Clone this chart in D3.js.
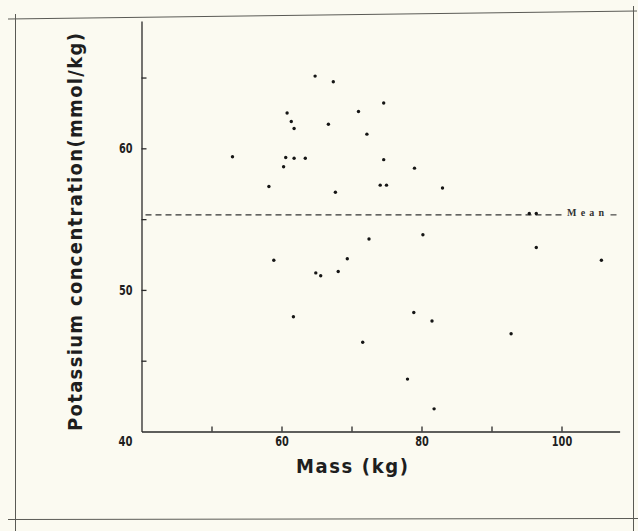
<!DOCTYPE html>
<html>
<head>
<meta charset="utf-8">
<script src="https://cdn.jsdelivr.net/npm/d3@7"></script>
<style>
  html, body { margin: 0; padding: 0; background: #fbfaf1; }
  svg { display: block; }
  .lbl { font-family: 'Liberation Sans Narrow', 'DejaVu Sans Condensed', 'Roboto', sans-serif; font-weight: bold; fill: #1e1e1e; }
</style>
</head>
<body>
<svg id="chart" width="638" height="531"></svg>
<script>
// ---- data ----
const massKg = [53.0, 58.2, 60.8, 61.4, 61.8, 60.6, 61.8, 63.4, 60.3, 64.8,
                66.7, 67.4, 74.6, 71.0, 72.2, 74.6, 79.0, 74.1, 75.0, 67.7,
                83.0, 72.5, 80.2, 58.9, 64.9, 65.6, 61.7, 69.4, 68.1, 96.4,
                105.7, 78.9, 81.5, 71.6, 92.8, 78.0, 81.8, 95.4, 96.4];
const potassium = [59.4, 57.3, 62.5, 61.9, 61.4, 59.35, 59.3, 59.3, 58.7, 65.1,
                   61.7, 64.7, 63.2, 62.6, 61.0, 59.2, 58.6, 57.4, 57.4, 56.9,
                   57.2, 53.6, 53.9, 52.1, 51.2, 51.0, 48.1, 52.2, 51.3, 53.0,
                   52.1, 48.4, 47.8, 46.3, 46.9, 43.7, 41.6, 55.4, 55.4];
const meanPotassium = 55.3;
const xTicks = [50, 60, 70, 80, 90, 100];
const xTickLabels = [60, 80, 100];
const yTicks = [45, 50, 55, 60, 65];
const yTickLabels = [50, 60];
const originLabel = "40";
const xTitle = "Mass (kg)";
const yTitle = "Potassium concentration(mmol/kg)";
const meanText = "Mean";

// ---- layout ----
const svg = d3.select("#chart");
const x = d3.scaleLinear().domain([40, 108.3]).range([141.5, 619.6]);
const y = d3.scaleLinear().domain([40, 69]).range([431.5, 20.9]);

// frame lines from the scanned page
const frame = svg.append("g").attr("stroke", "#5a5a55").attr("stroke-width", 1).attr("fill", "none");
frame.append("line").attr("x1", 8).attr("y1", 19).attr("x2", 637).attr("y2", 11);
frame.append("line").attr("x1", 15.5).attr("y1", 14).attr("x2", 15.5).attr("y2", 531);
frame.append("line").attr("x1", 633.5).attr("y1", 6).attr("x2", 633.5).attr("y2", 531);
frame.append("line").attr("x1", 8).attr("y1", 519.5).attr("x2", 638).attr("y2", 518.5);

// axes
const xAxis = d3.axisBottom(x).tickValues(xTicks).tickSizeInner(-5).tickSizeOuter(0).tickPadding(5)
  .tickFormat(d => xTickLabels.includes(d) ? d : "");
const yAxis = d3.axisLeft(y).tickValues(yTicks).tickSizeInner(-5).tickSizeOuter(0).tickPadding(9)
  .tickFormat(d => yTickLabels.includes(d) ? d : "");

const gx = svg.append("g").attr("transform", `translate(0,${y(40)})`).call(xAxis);
const gy = svg.append("g").attr("transform", `translate(${x(40)},0)`).call(yAxis);
[gx, gy].forEach(g => {
  g.select(".domain").attr("stroke", "#2a2a2a").attr("stroke-width", 1.3);
  g.selectAll(".tick line").attr("stroke", "#2a2a2a").attr("stroke-width", 1.3);
  g.selectAll(".tick text").attr("class", "lbl").attr("font-size", 14).attr("fill", "#1e1e1e")
    .each(function() {
      const t = d3.select(this);
      const n = t.text().length;
      if (n) t.attr("textLength", 6.8 * n).attr("lengthAdjust", "spacingAndGlyphs");
    });
});

// corner label
svg.append("text").attr("class", "lbl").attr("font-size", 14)
  .attr("x", x(40) - 23).attr("y", y(40) + 14)
  .attr("textLength", 14).attr("lengthAdjust", "spacingAndGlyphs")
  .text(originLabel);

// axis titles
svg.append("text").attr("class", "lbl").attr("font-size", 20)
  .attr("x", 296).attr("y", 473)
  .attr("textLength", 112).attr("lengthAdjust", "spacing")
  .text(xTitle);
svg.append("text").attr("class", "lbl").attr("font-size", 20)
  .attr("transform", `translate(82,431) rotate(-90)`)
  .attr("textLength", 398).attr("lengthAdjust", "spacing")
  .text(yTitle);

// mean line
const meanG = svg.append("g").attr("stroke", "#333").attr("stroke-width", 1.1).attr("stroke-dasharray", "6,4");
meanG.append("line").attr("x1", x(40) + 4).attr("x2", x(100.3)).attr("y1", y(meanPotassium)).attr("y2", y(meanPotassium));
meanG.append("line").attr("x1", x(107)).attr("x2", x(108.3)).attr("y1", y(meanPotassium)).attr("y2", y(meanPotassium));
svg.append("text").attr("x", x(100.8)).attr("y", y(meanPotassium) + 1)
  .attr("font-family", "'Liberation Serif', 'DejaVu Serif', serif").attr("font-weight", "bold")
  .attr("font-size", 10).attr("textLength", 37).attr("lengthAdjust", "spacing").attr("fill", "#333")
  .text(meanText);

// points
svg.append("g").selectAll("circle")
  .data(massKg.map((m, i) => [m, potassium[i]]))
  .join("circle")
  .attr("cx", d => x(d[0]))
  .attr("cy", d => y(d[1]))
  .attr("r", 1.7)
  .attr("fill", "#151515");
</script>
</body>
</html>
